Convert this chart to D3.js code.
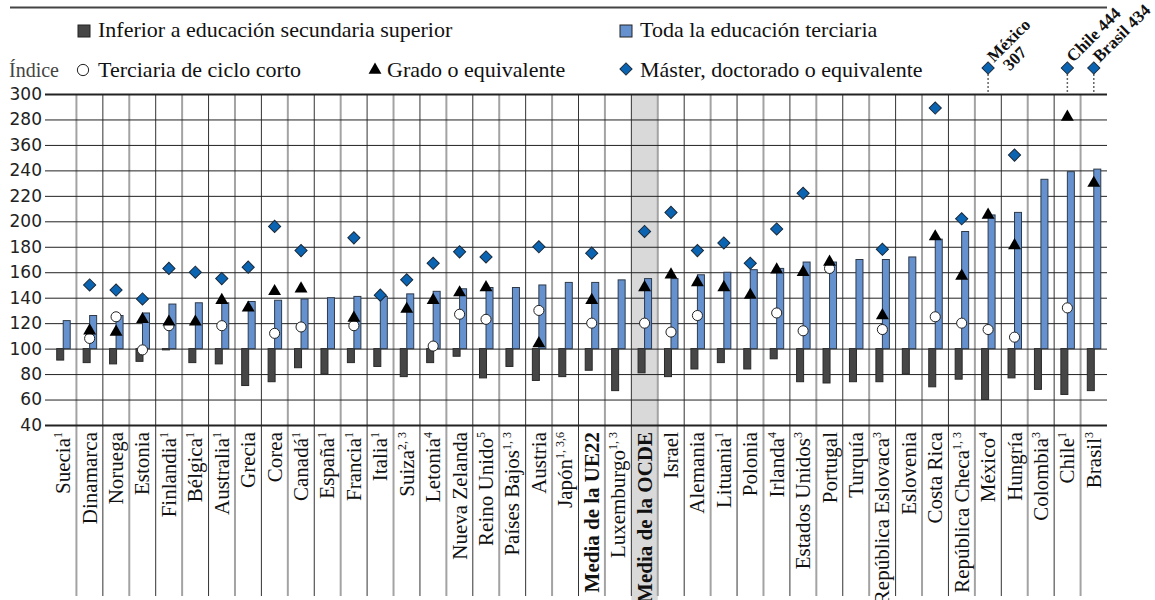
<!DOCTYPE html>
<html lang="es">
<head>
  <meta charset="utf-8">
  <style>
    body { margin: 0; background: #fff; }
    .serif { font-family: "Liberation Serif", serif; fill: #111; }
    .ytick text { font: 17px "DejaVu Sans", sans-serif; fill: #222; }
  </style>
  <script src="https://d3js.org/d3.v7.min.js"></script>
</head>
<body>
  <script>
    // countries / averages as printed on the x axis
    const categories = ["Suecia", "Dinamarca", "Noruega", "Estonia", "Finlandia", "Bélgica", "Australia",
      "Grecia", "Corea", "Canadá", "España", "Francia", "Italia", "Suiza", "Letonia", "Nueva Zelanda",
      "Reino Unido", "Países Bajos", "Austria", "Japón", "Media de la UE22", "Luxemburgo",
      "Media de la OCDE", "Israel", "Alemania", "Lituania", "Polonia", "Irlanda", "Estados Unidos",
      "Portugal", "Turquía", "República Eslovaca", "Eslovenia", "Costa Rica", "República Checa",
      "México", "Hungría", "Colombia", "Chile", "Brasil"];
    const footnotes = ["1", "", "", "", "1", "1", "1", "", "", "1", "1", "1", "1", "2, 3", "4", "", "5",
      "1, 3", "", "1, 3,6", "", "1, 3", "", "", "", "1", "", "4", "3", "", "", "3", "", "", "1, 3",
      "4", "", "3", "1", "3"];
    const boldCategories = ["Media de la UE22", "Media de la OCDE"];
    const highlighted = "Media de la OCDE";

    // index values (upper secondary = 100)
    const inferior = [91, 89, 88, 90, 99, 89, 88, 71, 74, 85, 80, 89, 86, 78, 89, 94, 77, 86, 75, 78,
      83, 67, 81, 78, 84, 89, 84, 92, 74, 73, 74, 74, 80, 70, 76, 60, 77, 68, 64, 67];
    const terciaria = [122, 126, 126, 128, 135, 136, 136, 137, 138, 139, 140, 141, 141, 143, 145, 147,
      148, 148, 150, 152, 152, 154, 155, 155, 158, 160, 162, 163, 168, 168, 170, 170, 172, 186, 192,
      205, 207, 233, 239, 241];
    const cicloCorto = [null, 108, 125, 99, 118, null, 118, null, 112, 117, null, 118, null, null, 102,
      127, 123, null, 130, null, 120, null, 120, 113, 126, null, null, 128, 114, 163, null, 115, null,
      125, 120, 115, 109, null, 132, null];
    const grado = [null, 114, 113, 123, 121, 121, 138, 132, 145, 147, null, 124, null, 131, 138, 144,
      148, null, 104, null, 138, null, 148, 158, 152, 148, 142, 162, 160, 168, null, 126, null, 188,
      157, 205, 181, null, 282, 230];
    const master = [null, 150, 146, 139, 163, 160, 155, 164, 196, 177, null, 187, 142, 154, 167, 176,
      172, null, 180, null, 175, null, 192, 207, 177, 183, 167, 194, 222, null, null, 178, null, 289,
      202, 307, 252, null, 444, 434];

    const yTicks = [300, 280, 260, 240, 220, 200, 180, 160, 140, 120, 100, 80, 60, 40];
    const yTickLabels = ["300", "280", "360", "240", "220", "200", "180", "160", "140", "120", "100",
      "80", "60", "40"];

    const legendItems = [
      { label: "Inferior a educación secundaria superior", key: "inferior" },
      { label: "Toda la educación terciaria", key: "terciaria" },
      { label: "Terciaria de ciclo corto", key: "corto" },
      { label: "Grado o equivalente", key: "grado" },
      { label: "Máster, doctorado o equivalente", key: "master" }
    ];

    const W = 1155, H = 600;
    const plotLeft = 50, plotRight = 1107, plotTop = 94, plotBottom = 425;
    const darkFill = "#464646", blueFill = "#6592cf", diamondFill = "#0b64b2";

    const svg = d3.select("body").append("svg")
      .attr("width", W).attr("height", H);

    const x = d3.scaleBand().domain(categories).range([plotLeft, plotRight]).padding(0);
    const y = d3.scaleLinear().domain([40, 300]).range([plotBottom, plotTop]);
    const bw = x.bandwidth();
    const cx = d => x(d) + bw / 2;

    // rule under the (cropped) title
    svg.append("line")
      .attr("x1", 10).attr("x2", plotRight).attr("y1", 7.5).attr("y2", 7.5)
      .attr("stroke", "#444").attr("stroke-width", 2);

    // highlighted OECD column
    svg.append("rect")
      .attr("x", x(highlighted)).attr("width", bw)
      .attr("y", plotTop).attr("height", H - plotTop)
      .attr("fill", "#d9d9d9");

    // vertical separators between categories
    svg.append("g").selectAll("line")
      .data(categories.slice(1))
      .join("line")
      .attr("x1", d => x(d)).attr("x2", d => x(d))
      .attr("y1", plotTop).attr("y2", 596)
      .attr("stroke", (d, i) => i % 2 === 0 ? "#a3a3a3" : "#333")
      .attr("stroke-width", (d, i) => i % 2 === 0 ? 2 : 1);

    // y axis with full-width gridlines
    const yAxis = svg.append("g")
      .attr("class", "ytick")
      .attr("transform", `translate(45,0)`)
      .call(d3.axisLeft(y).tickValues(yTicks)
        .tickFormat((d, i) => yTickLabels[i])
        .tickSize(-(plotRight - 45)).tickPadding(3));
    yAxis.select(".domain").remove();
    yAxis.selectAll(".tick line")
      .attr("stroke", "#222")
      .attr("stroke-width", d => (d === 300 || d === 40) ? 2 : 1);
    yAxis.selectAll(".tick text").attr("x", -3);

    svg.append("text").attr("class", "serif")
      .attr("x", 9).attr("y", 77)
      .style("font-size", "20px").style("fill", "#444")
      .text("Índice");

    // bars
    const rows = categories.map((c, i) => ({
      c, inferior: inferior[i], terciaria: terciaria[i],
      corto: cicloCorto[i], grado: grado[i], master: master[i]
    }));

    svg.append("g").selectAll("rect")
      .data(rows)
      .join("rect")
      .attr("x", d => cx(d.c) - 6.5).attr("width", 7)
      .attr("y", y(100)).attr("height", d => y(d.inferior) - y(100))
      .attr("fill", darkFill).attr("stroke", "#2a2a2a").attr("stroke-width", 1);

    svg.append("g").selectAll("rect")
      .data(rows)
      .join("rect")
      .attr("x", d => cx(d.c)).attr("width", 7)
      .attr("y", d => y(d.terciaria)).attr("height", d => y(100) - y(d.terciaria))
      .attr("fill", blueFill).attr("stroke", "#2e3a4a").attr("stroke-width", 1);

    // markers
    const circleSym = d3.symbol().type(d3.symbolCircle).size(80);
    const triSym = d3.symbol().type(d3.symbolTriangle).size(72);
    const diaSym = d3.symbol().type(d3.symbolSquare).size(74);

    svg.append("g").selectAll("path")
      .data(rows.filter(d => d.corto != null))
      .join("path")
      .attr("d", circleSym)
      .attr("transform", d => `translate(${cx(d.c)},${y(d.corto)})`)
      .attr("fill", "#fff").attr("stroke", "#222").attr("stroke-width", 1);

    svg.append("g").selectAll("path")
      .data(rows.filter(d => d.grado != null))
      .join("path")
      .attr("d", triSym)
      .attr("transform", d => `translate(${cx(d.c)},${y(d.grado)})`)
      .attr("fill", "#000");

    const overflowY = y(300) - 26;
    const dia = svg.append("g");
    dia.selectAll("line")
      .data(rows.filter(d => d.master != null && d.master > 300))
      .join("line")
      .attr("x1", d => cx(d.c)).attr("x2", d => cx(d.c))
      .attr("y1", overflowY + 6).attr("y2", plotTop)
      .attr("stroke", "#666").attr("stroke-width", 1.5).attr("stroke-dasharray", "2,2");
    dia.selectAll("path")
      .data(rows.filter(d => d.master != null))
      .join("path")
      .attr("d", diaSym)
      .attr("transform", d => `translate(${cx(d.c)},${d.master > 300 ? overflowY : y(d.master)}) rotate(45)`)
      .attr("fill", diamondFill).attr("stroke", "#1a2a3a").attr("stroke-width", 1);

    // labels for off-scale values
    const over = dia.selectAll("text")
      .data(rows.filter(d => d.master != null && d.master > 300))
      .join("text")
      .attr("class", "serif")
      .attr("transform", d => `translate(${cx(d.c) + 6},${overflowY - 5}) rotate(-45)`)
      .style("font-size", "17px").style("font-weight", "bold");
    over.each(function(d) {
      const t = d3.select(this);
      if (d.c === "México") {
        t.append("tspan").attr("x", 0).text(d.c);
        t.append("tspan").attr("x", 5).attr("dy", "1em").text(d.master);
      } else {
        t.text(`${d.c} ${d.master}`);
      }
    });

    // category labels
    const catLab = svg.append("g").selectAll("text")
      .data(categories)
      .join("text")
      .attr("class", "serif")
      .attr("transform", d => `translate(${cx(d) + 7},432) rotate(-90)`)
      .attr("text-anchor", "end")
      .style("font-size", "21px")
      .style("font-weight", d => boldCategories.includes(d) ? "bold" : "normal");
    catLab.append("tspan").text(d => d);
    catLab.append("tspan")
      .attr("dy", -8)
      .style("font-size", "12px")
      .text((d, i) => footnotes[i]);

    // legend
    const legendPos = {
      inferior: [78, 37], terciaria: [620, 37],
      corto: [78, 77], grado: [368, 77], master: [620, 77]
    };
    const lg = svg.append("g");
    legendItems.forEach(item => {
      const [lx, ly] = legendPos[item.key];
      const g = lg.append("g").attr("transform", `translate(${lx},${ly})`);
      if (item.key === "inferior" || item.key === "terciaria") {
        g.append("rect").attr("x", 0).attr("y", -12).attr("width", 12).attr("height", 12)
          .attr("fill", item.key === "inferior" ? darkFill : blueFill)
          .attr("stroke", "#222").attr("stroke-width", 1);
      } else if (item.key === "corto") {
        g.append("path").attr("d", d3.symbol().type(d3.symbolCircle).size(100))
          .attr("transform", "translate(5,-7)")
          .attr("fill", "#fff").attr("stroke", "#222");
      } else if (item.key === "grado") {
        g.append("path").attr("d", triSym).attr("transform", "translate(7,-7)").attr("fill", "#000");
      } else {
        g.append("path").attr("d", diaSym).attr("transform", "translate(6,-8) rotate(45)")
          .attr("fill", diamondFill).attr("stroke", "#1a2a3a");
      }
      g.append("text").attr("class", "serif")
        .attr("x", item.key === "grado" ? 19 : 20).attr("y", 0)
        .style("font-size", "22px")
        .text(item.label);
    });
  </script>
</body>
</html>
